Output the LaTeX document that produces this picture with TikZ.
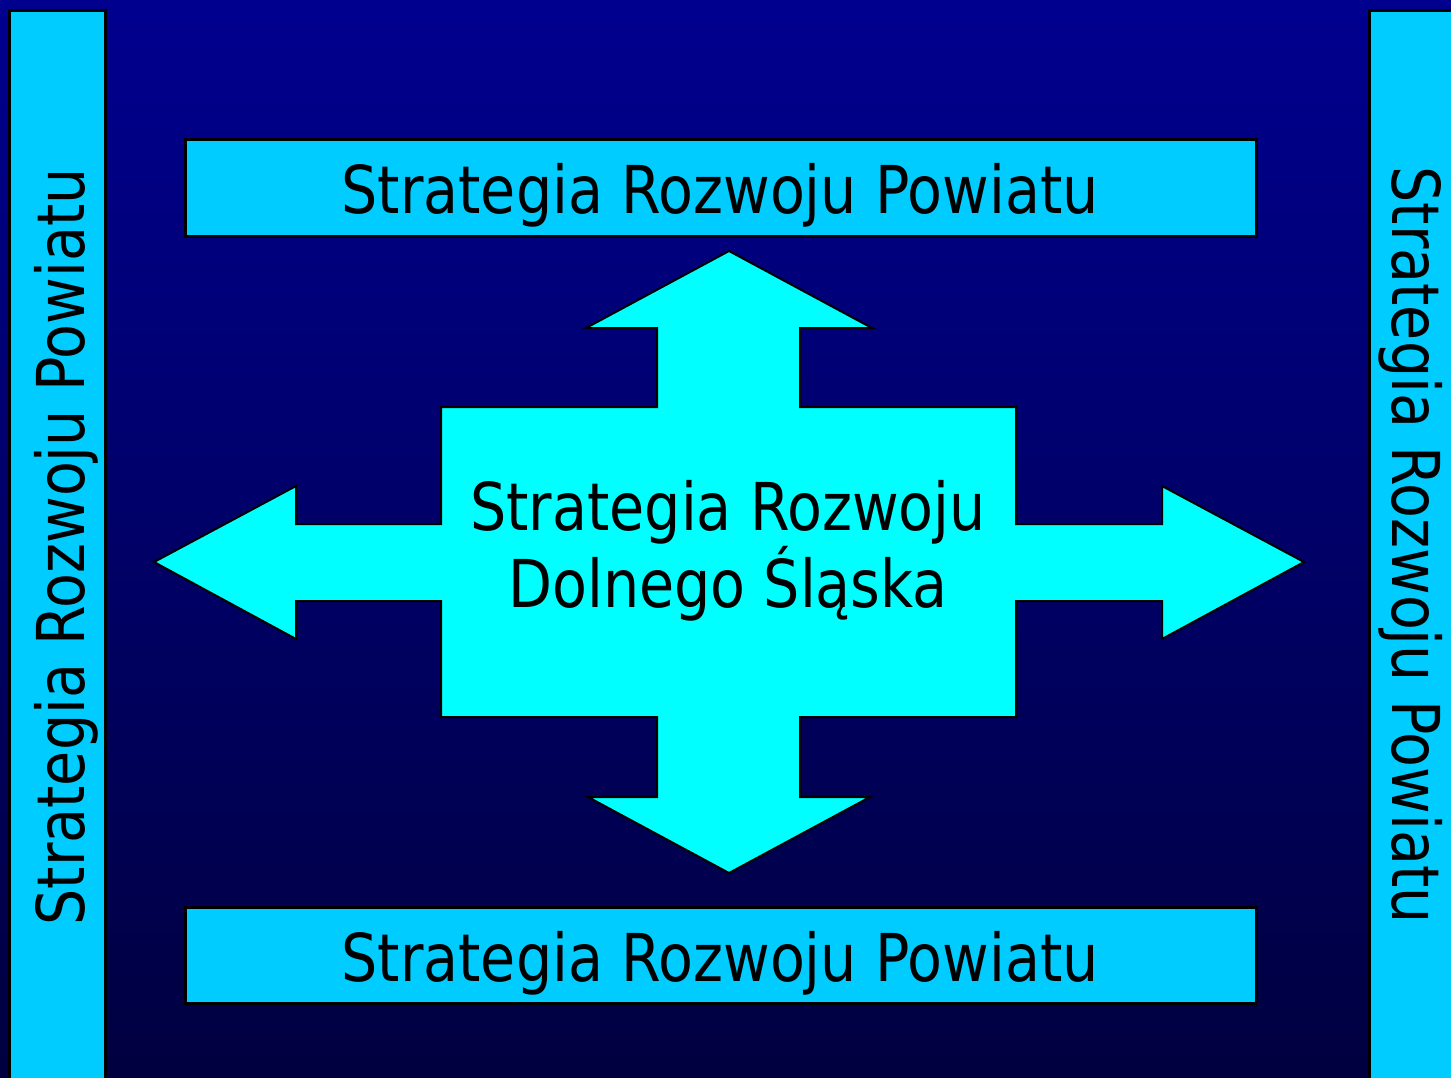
\documentclass[tikz,border=0pt]{standalone}
\usepackage{fontspec}
\setmainfont[FakeStretch=0.865]{DejaVu Sans}
\definecolor{bgtop}{RGB}{0,0,143}
\definecolor{bgbot}{RGB}{0,0,64}
\definecolor{barblue}{RGB}{0,204,255}
\definecolor{crosscyan}{RGB}{0,255,255}
\tikzset{
  bar/.style={fill=barblue, draw=black, line width=1.5pt},
  lbl/.style={font=\fontsize{33pt}{38pt}\selectfont, text=black, inner sep=0pt, anchor=base},
  cross/.style={fill=crosscyan, draw=black, line width=1pt, line join=miter},
}
\begin{document}
\begin{tikzpicture}[x=0.5pt,y=-0.5pt]
\useasboundingbox (0,0) rectangle (1451,1077);
\shade[top color=bgtop, bottom color=bgbot] (0,0) rectangle (1451,1077);
% side bars
\path[bar] (9,10) rectangle (105,1090);
\path[bar] (1369,10) rectangle (1460,1090);
\node[lbl, rotate=90] (ltext) at (84,547) {Strategia Rozwoju Powiatu};
\node[lbl, rotate=-90] (rtext) at (1392,545) {Strategia Rozwoju Powiatu};
% top and bottom boxes
\path[bar] (185,139) rectangle (1256,236);
\node[lbl] (ttext) at (720,213) {Strategia Rozwoju Powiatu};
\path[bar] (185,907) rectangle (1256,1003);
\node[lbl] (btext) at (720,981) {Strategia Rozwoju Powiatu};
% central cross with four arrows
\path[cross] (729,251) -- (872,328) -- (800,328) -- (800,407) -- (1016,407)
  -- (1016,524) -- (1162,524) -- (1162,486) -- (1304,562) -- (1162,639) -- (1162,601)
  -- (1016,601) -- (1016,717) -- (800,717) -- (800,797) -- (870,797) -- (729,873)
  -- (588,797) -- (657,797) -- (657,717) -- (441,717) -- (441,601) -- (296,601)
  -- (296,639) -- (154,562) -- (296,486) -- (296,524) -- (441,524) -- (441,407)
  -- (657,407) -- (657,328) -- (586,328) -- cycle;
\node[lbl] (c1) at (728,530) {Strategia Rozwoju};
\node[lbl] (c2) at (728,607) {Dolnego Śląska};
\end{tikzpicture}
\end{document}
